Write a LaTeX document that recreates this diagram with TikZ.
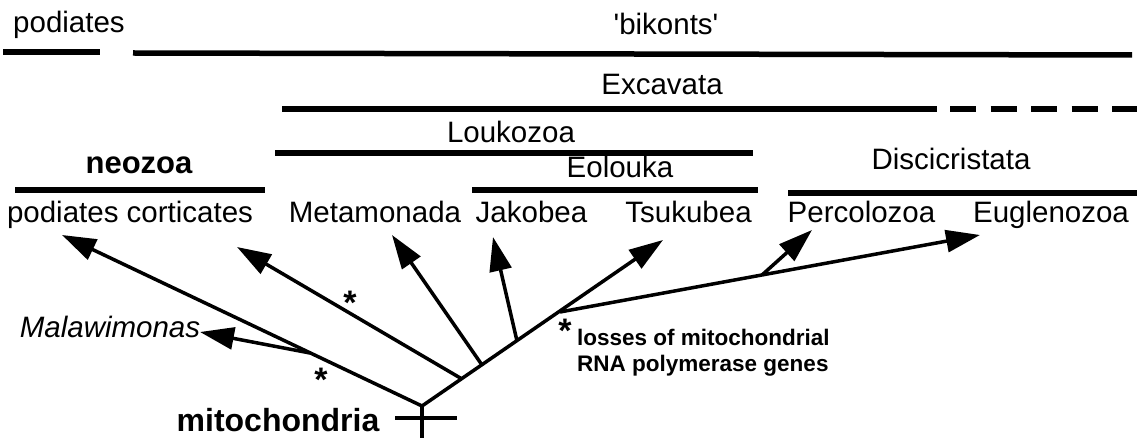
\documentclass[tikz,border=0pt]{standalone}
\usepackage{fontspec}
\setmainfont{Liberation Sans}[Ligatures=TeXOff]
\usetikzlibrary{arrows.meta}
\begin{document}
\begin{tikzpicture}[x=1pt,y=-1pt,
  lab/.style={inner sep=0pt, anchor=base, font=\fontsize{29.5}{34}\selectfont},
  blab/.style={inner sep=0pt, anchor=base, font=\fontsize{31}{36}\selectfont\bfseries},
  note/.style={inner sep=0pt, anchor=base west, font=\fontsize{22.5}{26}\selectfont\bfseries},
  bar/.style={line width=5.5pt},
  br/.style={line width=3.5pt},
  arr/.style={br, -{Triangle[length=34pt,width=22pt]}},
  starlab/.style={inner sep=0pt, anchor=base, font=\fontsize{34}{38}\selectfont\bfseries}]
\useasboundingbox (0,0) rectangle (1137,438);
% group labels
\node[lab] (podiates) at (69,33) {podiates};
\node[lab] (bikonts) at (666,35) {'bikonts'};
\node[lab] (excavata) at (662,95) {Excavata};
\node[lab] (loukozoa) at (511,143) {Loukozoa};
\node[lab] (eolouka) at (620,178) {Eolouka};
\node[blab] (neozoa) at (139,174) {neozoa};
\node[lab] (discicristata) at (951,170) {Discicristata};
% bars
\draw[bar] (3,52) coordinate (bp1) -- (100,52) coordinate (bp2);
\draw[bar] (133,53) coordinate (bb1) -- (1132,55) coordinate (bb2);
\draw[bar] (282,109) coordinate (be1) -- (937,109) coordinate (be2);
\draw[bar, dash pattern=on 26pt off 14.5pt] (950,109) coordinate (bd1) -- (1137,109) coordinate (bd2);
\draw[bar] (275,153) coordinate (bl1) -- (753,153) coordinate (bl2);
\draw[bar] (472,190) coordinate (bo1) -- (758,190) coordinate (bo2);
\draw[bar] (15,190) coordinate (bn1) -- (265,190) coordinate (bn2);
\draw[bar] (788,193) coordinate (bc1) -- (1137,193) coordinate (bc2);
% taxa
\node[lab] (pc) at (130,223) {podiates corticates};
\node[lab] (meta) at (375,223) {Metamonada};
\node[lab] (jako) at (531.5,223) {Jakobea};
\node[lab] (tsuk) at (688.5,223) {Tsukubea};
\node[lab] (perc) at (861.5,223) {Percolozoa};
\node[lab] (eugl) at (1051,223) {Euglenozoa};
\node[lab, font=\fontsize{29.5}{34}\selectfont\itshape] (mala) at (110,337) {Malawimonas};
\node[blab, font=\fontsize{32}{36}\selectfont\bfseries] (mito) at (278,431) {mitochondria};
% tree points
\coordinate (root) at (422,406);
\coordinate (jm) at (310,353);
\coordinate (j1) at (462,379);
\coordinate (j2) at (482,365);
\coordinate (j3) at (517,341);
\coordinate (j4) at (560,312);
\coordinate (jp) at (762,275);
\coordinate (tpc) at (62,235);
\coordinate (tmal) at (200,332);
\coordinate (t1) at (237,247);
\coordinate (t2) at (392,235);
\coordinate (t3) at (493,237);
\coordinate (t4) at (663,240);
\coordinate (t5) at (980,235);
\coordinate (t6) at (812,230);
% branches
\draw[arr] (root) -- (tpc);
\draw[arr] (jm) -- (tmal);
\draw[arr] (j1) -- (t1);
\draw[arr] (j2) -- (t2);
\draw[arr] (j3) -- (t3);
\draw[arr] (root) -- (t4);
\draw[arr] (j4) -- (t5);
\draw[arr] (jp) -- (t6);
% mitochondria cross
\coordinate (cbot) at (422,438);
\coordinate (cl) at (395,418);
\coordinate (cr) at (457,418);
\draw[br, line width=4pt] (root) -- (cbot);
\draw[br, line width=4pt] (cl) -- (cr);
% stars
\node[starlab] (s1) at (350,314) {*};
\node[starlab] (s2) at (321,391) {*};
\node[starlab] (s3) at (565,342) {*};
\node[note] (n1) at (577,345) {losses of mitochondrial};
\node[note] (n2) at (577,371) {RNA polymerase genes};
\end{tikzpicture}
\end{document}
